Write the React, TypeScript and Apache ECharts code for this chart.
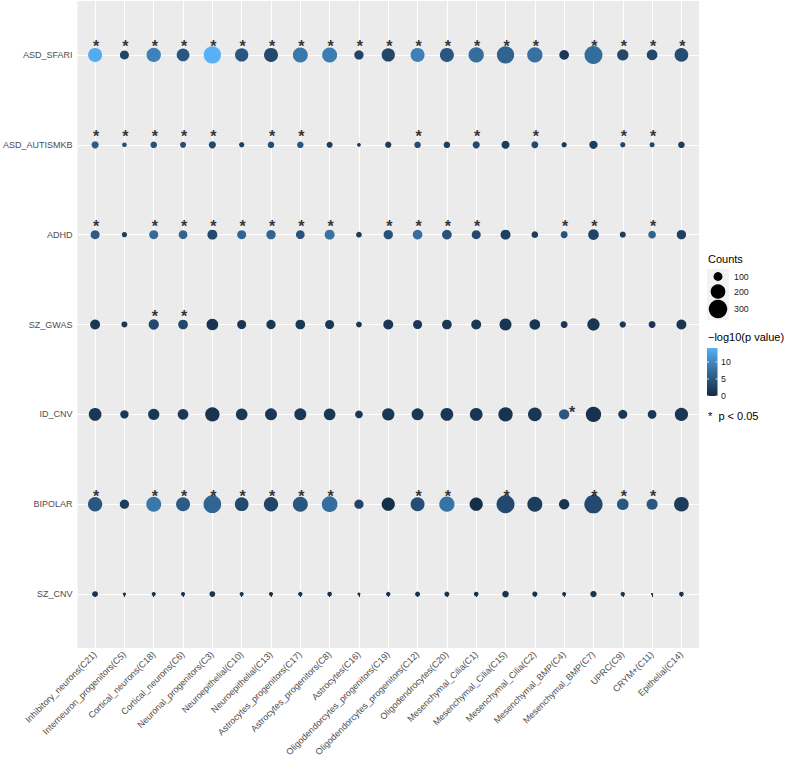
import React, { useEffect, useRef } from "react";
import * as echarts from "echarts";

const categories = [
  "Inhibitory_neurons(C21)", "Interneuron_progenitors(C5)", "Cortical_neurons(C18)", "Cortical_neurons(C6)",
  "Neuronal_progenitors(C3)", "Neuroepithelial(C10)", "Neuroepithelial(C13)", "Astrocytes_progenitors(C17)",
  "Astrocytes_progenitors(C8)", "Astrocytes(C16)", "Oligodendorcytes_progenitors(C19)", "Oligodendorcytes_progenitors(C12)",
  "Oligodendrocytes(C20)", "Mesenchymal_Cilia(C1)", "Mesenchymal_Cilia(C15)", "Mesenchymal_Cilia(C2)",
  "Mesenchymal_BMP(C4)", "Mesenchymal_BMP(C7)", "UPRC(C9)", "CRYM+(C11)", "Epithelial(C14)",
];

// rows listed top to bottom
const diseases = ["ASD_SFARI", "ASD_AUTISMKB", "ADHD", "SZ_GWAS", "ID_CNV", "BIPOLAR", "SZ_CNV"];

const countsASD_SFARI = [186, 101, 193, 160, 266, 170, 186, 208, 208, 105, 170, 186, 186, 215, 266, 215, 110, 286, 134, 124, 180];
const countsASD_AUTISMKB = [82, 65, 77, 73, 82, 68, 77, 77, 73, 62, 75, 77, 77, 82, 90, 80, 68, 93, 68, 67, 77];
const countsADHD = [101, 68, 101, 98, 114, 101, 105, 98, 114, 71, 105, 110, 110, 101, 114, 77, 80, 124, 73, 87, 105];
const countsSZ_GWAS = [114, 73, 119, 110, 141, 101, 105, 110, 101, 71, 114, 101, 110, 114, 146, 124, 80, 152, 75, 80, 114];
const countsID_CNV = [160, 93, 134, 124, 193, 141, 146, 146, 141, 87, 151, 146, 160, 160, 193, 180, 119, 215, 101, 98, 170];
const countsBIPOLAR = [193, 105, 208, 186, 278, 180, 193, 208, 225, 105, 170, 186, 215, 170, 286, 208, 119, 295, 141, 130, 201];
const countsSZ_CNV = [71, 61, 63, 63, 71, 63, 63, 64, 65, 60.5, 64, 67, 67, 65, 77, 68, 63, 75, 64, 60, 65];

const pASD_SFARI = [13.6, 3, 9.5, 5, 14.1, 5, 3.5, 8.5, 9, 3, 3.2, 9.3, 5, 7.5, 6.3, 7.8, 1.5, 7.3, 3.3, 3.3, 4];
const pASD_AUTISMKB = [5.5, 4, 4.5, 4, 3.5, 2, 4, 5, 2, 1.5, 2, 4, 2.5, 3.5, 2, 3.5, 1.5, 2, 3, 3, 2];
const pADHD = [5.5, 2, 7, 6.5, 3.5, 6.5, 6.5, 4.5, 8, 2, 4.5, 7.5, 4.5, 3.5, 2.5, 2, 4.5, 3, 2, 6.5, 2.5];
const pSZ_GWAS = [1.5, 1.5, 3.5, 3.3, 1.2, 1.3, 1.5, 1.5, 1.5, 1.5, 1.5, 1.5, 1.5, 1.5, 1.2, 1.3, 1.5, 1.3, 1.5, 1.5, 1.2];
const pID_CNV = [1.5, 1.5, 1.5, 1.5, 1, 1.5, 1.5, 1.5, 1.5, 1.5, 1.5, 1.5, 1.5, 1.2, 1, 1.3, 5, 0.8, 1.5, 1.5, 1.3];
const pBIPOLAR = [5, 2, 8.5, 5.5, 6.5, 3.5, 3, 5, 7.5, 3, 0.5, 4, 8, 0.5, 3.5, 2, 1, 3.5, 5, 5, 2];
const pSZ_CNV = [1, 1, 0.8, 0.8, 1, 0.8, 0.8, 0.8, 0.8, 0.5, 0.8, 0.8, 0.8, 0.8, 1, 0.8, 0.8, 1, 0.8, 0.5, 0.8];

const sigASD_SFARI = [1, 1, 1, 1, 1, 1, 1, 1, 1, 1, 1, 1, 1, 1, 1, 1, 0, 1, 1, 1, 1];
const sigASD_AUTISMKB = [1, 1, 1, 1, 1, 0, 1, 1, 0, 0, 0, 1, 0, 1, 0, 1, 0, 0, 1, 1, 0];
const sigADHD = [1, 0, 1, 1, 1, 1, 1, 1, 1, 0, 1, 1, 1, 1, 0, 0, 1, 1, 0, 1, 0];
const sigSZ_GWAS = [0, 0, 1, 1, 0, 0, 0, 0, 0, 0, 0, 0, 0, 0, 0, 0, 0, 0, 0, 0, 0];
const sigID_CNV = [0, 0, 0, 0, 0, 0, 0, 0, 0, 0, 0, 0, 0, 0, 0, 0, 1, 0, 0, 0, 0];
const sigBIPOLAR = [1, 0, 1, 1, 1, 1, 1, 1, 1, 0, 0, 1, 1, 0, 1, 0, 0, 1, 1, 1, 0];
const sigSZ_CNV = [0, 0, 0, 0, 0, 0, 0, 0, 0, 0, 0, 0, 0, 0, 0, 0, 0, 0, 0, 0, 0];

const sizeBreaks = [100, 200, 300];
const colorBreaks = [0, 5, 10];

const rowCounts = [countsASD_SFARI, countsASD_AUTISMKB, countsADHD, countsSZ_GWAS, countsID_CNV, countsBIPOLAR, countsSZ_CNV];
const rowP = [pASD_SFARI, pASD_AUTISMKB, pADHD, pSZ_GWAS, pID_CNV, pBIPOLAR, pSZ_CNV];
const rowSig = [sigASD_SFARI, sigASD_AUTISMKB, sigADHD, sigSZ_GWAS, sigID_CNV, sigBIPOLAR, sigSZ_CNV];

const P_MAX = 14.1;
const C_MIN = 60, C_MAX = 310, D_MIN = 2.3, D_MAX = 18.8;
const sizeOf = (c: number) => D_MIN + (D_MAX - D_MIN) * Math.sqrt(Math.max(0, c - C_MIN) / (C_MAX - C_MIN));
const GRAD = ["#132B43", "#234A6E", "#336A98", "#448DC8", "#56B1F7"];
const FONT = "Liberation Sans, Arial, Helvetica, sans-serif";

export default function App() {
  const ref = useRef<HTMLDivElement>(null);
  useEffect(() => {
    if (!ref.current) return;
    const chart = echarts.init(ref.current, null, { renderer: "svg" });
    const nRows = diseases.length;
    const bubbles: any[] = [];
    const stars: any[] = [];
    diseases.forEach((d, i) => {
      const y = nRows - 1 - i;
      categories.forEach((c, j) => {
        bubbles.push([j, y, rowCounts[i][j], rowP[i][j]]);
        if (rowSig[i][j]) {
          const special = d === "ID_CNV";
          stars.push({
            value: [j, y],
            label: { offset: special ? [8, -2] : [1, -8] },
          });
        }
      });
    });
    const xs = categories.map((_, i) => i);
    const ys = diseases.map((_, i) => i);

    // legend geometry
    const lx = 707;
    const barTop = 348, barH = 48, barW = 10.5;
    const sizeKeyY = [276.5, 291.5, 309];
    const graphic: any[] = [
      { type: "text", left: lx + 1, top: 253, style: { text: "Counts", fontSize: 11, fill: "#000", fontFamily: FONT } },
      { type: "rect", shape: { x: lx, y: 269, width: 22, height: 51 }, style: { fill: "#F2F2F2" } },
      ...sizeBreaks.map((b, k) => ({
        type: "circle",
        shape: { cx: lx + 11, cy: sizeKeyY[k], r: sizeOf(b) / 2 },
        style: { fill: "#000" },
      })),
      ...sizeBreaks.map((b, k) => ({
        type: "text",
        x: lx + 27,
        y: sizeKeyY[k],
        style: { text: String(b), fontSize: 8.8, fill: "#1A1A1A", fontFamily: FONT, verticalAlign: "middle" },
      })),
      { type: "text", left: lx + 1, top: 331, style: { text: "\u2212log10(p value)", fontSize: 11, fill: "#000", fontFamily: FONT } },
      {
        type: "rect",
        shape: { x: lx, y: barTop, width: barW, height: barH },
        style: {
          fill: new echarts.graphic.LinearGradient(0, 0, 0, 1, GRAD.slice().reverse().map((c, k) => ({ offset: k / (GRAD.length - 1), color: c }))),
        },
      },
      ...colorBreaks.map((b) => {
        const yy = barTop + barH - (b / P_MAX) * barH;
        return {
          type: "text",
          x: lx + barW + 3.5,
          y: yy,
          style: { text: String(b), fontSize: 8.8, fill: "#1A1A1A", fontFamily: FONT, verticalAlign: "middle" },
        };
      }),
      ...colorBreaks.flatMap((b) => {
        const yy = barTop + barH - (b / P_MAX) * barH;
        return [
          { type: "line", shape: { x1: lx, y1: yy, x2: lx + 2, y2: yy }, style: { stroke: "#fff", lineWidth: 0.8 } },
          { type: "line", shape: { x1: lx + barW - 2, y1: yy, x2: lx + barW, y2: yy }, style: { stroke: "#fff", lineWidth: 0.8 } },
        ];
      }),
      { type: "text", left: lx + 1, top: 410, style: { text: "*  p < 0.05", fontSize: 11, fill: "#000", fontFamily: FONT } },
    ];

    chart.setOption({
      animation: false,
      backgroundColor: "#FFFFFF",
      grid: { left: 76, right: 90, top: 1, bottom: 113, show: true, backgroundColor: "#EBEBEB", borderWidth: 0 },
      xAxis: {
        type: "value",
        min: -0.6,
        max: 20.6,
        axisLine: { show: false },
        axisTick: { show: true, customValues: xs, length: 3, lineStyle: { color: "#333333", width: 1 } },
        axisLabel: {
          customValues: xs,
          formatter: (v: number) => categories[Math.round(v)] ?? "",
          rotate: 45,
          fontSize: 9,
          color: "#4D4D4D",
          margin: 5,
          fontFamily: FONT,
        },
        splitLine: { show: true, lineStyle: { color: "#FFFFFF", width: 1.1 } },
      },
      yAxis: {
        type: "value",
        min: -0.6,
        max: 6.6,
        axisLine: { show: false },
        axisTick: { show: true, customValues: ys, length: 3, lineStyle: { color: "#333333", width: 1 } },
        axisLabel: {
          customValues: ys,
          formatter: (v: number) => diseases[nRows - 1 - Math.round(v)] ?? "",
          fontSize: 9,
          color: "#4D4D4D",
          margin: 5,
          fontFamily: FONT,
        },
        splitLine: { show: true, lineStyle: { color: "#FFFFFF", width: 1.1 } },
      },
      visualMap: {
        type: "continuous",
        show: false,
        seriesIndex: 0,
        dimension: 3,
        min: 0,
        max: P_MAX,
        inRange: { color: GRAD },
      },
      series: [
        {
          type: "scatter",
          data: bubbles,
          symbol: "circle",
          symbolSize: (v: number[]) => sizeOf(v[2]),
          itemStyle: { opacity: 1 },
          emphasis: { disabled: true },
          silent: true,
          z: 3,
        },
        {
          type: "scatter",
          data: stars,
          symbol: "circle",
          symbolSize: 0.1,
          itemStyle: { color: "rgba(0,0,0,0)" },
          label: {
            show: true,
            position: "inside",
            formatter: "*",
            fontSize: 16,
            fontWeight: "bold",
            color: "#000000",
            textBorderWidth: 0,
            fontFamily: FONT,
          },
          emphasis: { disabled: true },
          silent: true,
          z: 4,
        },
      ],
      graphic,
    });
    return () => chart.dispose();
  }, []);
  return <div ref={ref} style={{ position: "fixed", left: 0, top: 0, width: 789, height: 761 }} />;
}
